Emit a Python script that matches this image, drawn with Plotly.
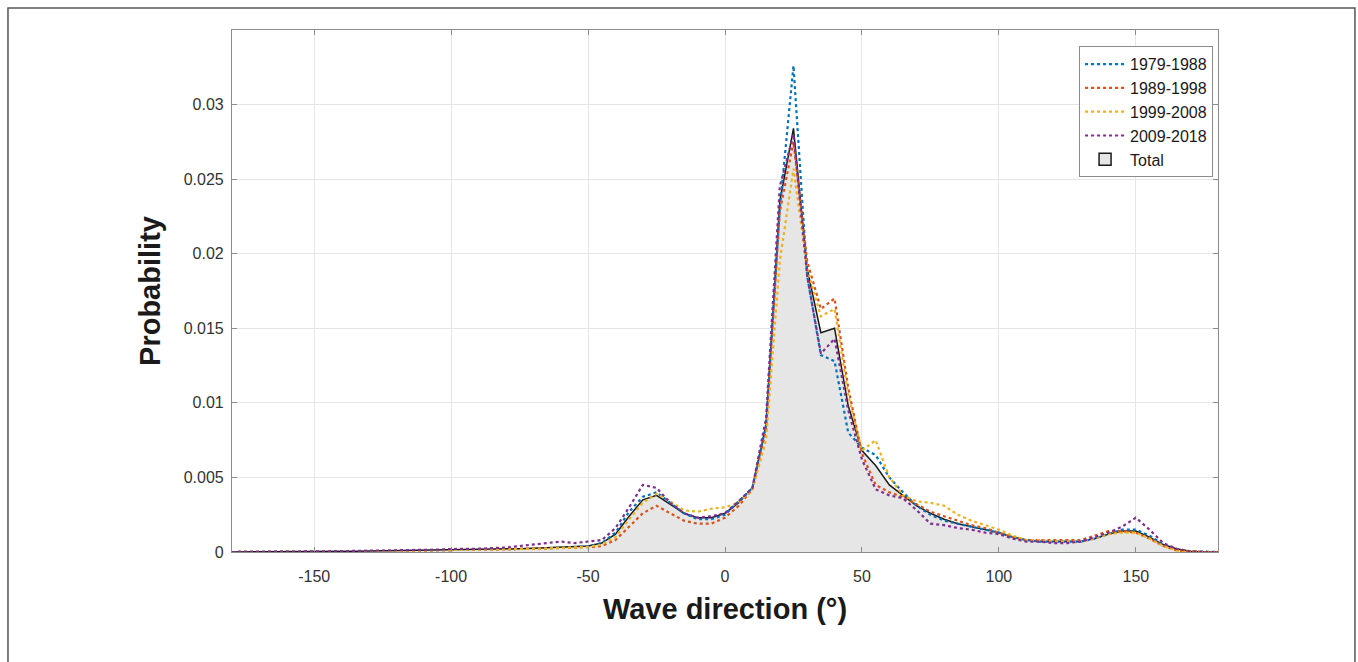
import plotly.graph_objects as go

directions = list(range(-180, 181, 5))

total = [0, 0, 0.00002, 0.00002, 0.00003, 0.00003, 0.00003, 0.00004, 0.00004, 0.00005,
         0.00006, 0.00007, 0.00008, 0.00009, 0.0001, 0.00012, 0.00013, 0.00014, 0.00016, 0.00018,
         0.0002, 0.00022, 0.00025, 0.00028, 0.00032, 0.00036, 0.0004, 0.0006, 0.0012, 0.0024,
         0.0035, 0.0038, 0.0032, 0.0026, 0.0023, 0.0023, 0.0026, 0.0033, 0.0043, 0.0085,
         0.0235, 0.0284, 0.0190, 0.0147, 0.0150, 0.0098, 0.0068, 0.0058, 0.0045, 0.0038,
         0.0031, 0.0026, 0.0022, 0.0019, 0.0017, 0.0015, 0.0013, 0.0010, 0.0008, 0.0007,
         0.0007, 0.0007, 0.0007, 0.0009, 0.0012, 0.0014, 0.0014, 0.0010, 0.0005, 0.0002,
         0.00005, 0, 0]

p1979 = [0, 0, 0.00001, 0.00002, 0.00002, 0.00003, 0.00003, 0.00003, 0.00004, 0.00004,
         0.00005, 0.00006, 0.00007, 0.00008, 0.00009, 0.0001, 0.00011, 0.00012, 0.00014, 0.00016,
         0.00018, 0.0002, 0.00022, 0.00025, 0.00028, 0.00032, 0.00036, 0.0006, 0.0013, 0.0027,
         0.0037, 0.0040, 0.0033, 0.0026, 0.0022, 0.0022, 0.0025, 0.0034, 0.0043, 0.0085,
         0.0230, 0.0326, 0.0185, 0.0132, 0.0128, 0.0080, 0.0070, 0.0065, 0.0050, 0.0040,
         0.0031, 0.0025, 0.0021, 0.0019, 0.0017, 0.0015, 0.0013, 0.0010, 0.0008, 0.0007,
         0.0007, 0.0007, 0.0007, 0.0009, 0.0012, 0.0015, 0.0015, 0.0011, 0.0005, 0.0002,
         0.00005, 0, 0]

p1989 = [0, 0, 0.00001, 0.00002, 0.00002, 0.00003, 0.00003, 0.00003, 0.00004, 0.00004,
         0.00005, 0.00006, 0.00007, 0.00008, 0.00009, 0.0001, 0.00011, 0.00012, 0.00014, 0.00016,
         0.00018, 0.0002, 0.00022, 0.00024, 0.00026, 0.0003, 0.00033, 0.0004, 0.0008, 0.0017,
         0.0026, 0.0031, 0.0026, 0.0021, 0.0019, 0.0019, 0.0023, 0.0031, 0.0042, 0.0082,
         0.0228, 0.0275, 0.0195, 0.0163, 0.0170, 0.0110, 0.0066, 0.0045, 0.0040, 0.0037,
         0.0032, 0.0027, 0.0024, 0.0021, 0.0018, 0.0016, 0.0013, 0.0010, 0.0008, 0.0008,
         0.0008, 0.0008, 0.0008, 0.0011, 0.0014, 0.0014, 0.0013, 0.0009, 0.0004, 0.0001,
         0.00003, 0, 0]

p1999 = [0, 0, 0.00001, 0.00002, 0.00002, 0.00003, 0.00003, 0.00003, 0.00004, 0.00004,
         0.00005, 0.00006, 0.00007, 0.00008, 0.00009, 0.0001, 0.00011, 0.00012, 0.00014, 0.00016,
         0.00018, 0.0002, 0.00022, 0.00024, 0.00027, 0.0003, 0.00034, 0.0005, 0.0010, 0.0022,
         0.0033, 0.0039, 0.0034, 0.0028, 0.0027, 0.0029, 0.0030, 0.0033, 0.0042, 0.0075,
         0.0195, 0.0257, 0.0190, 0.0158, 0.0163, 0.0105, 0.0068, 0.0075, 0.0050, 0.0038,
         0.0034, 0.0033, 0.0031, 0.0025, 0.0021, 0.0018, 0.0015, 0.0011, 0.0008, 0.0008,
         0.0007, 0.0007, 0.0007, 0.0009, 0.0012, 0.0013, 0.0013, 0.0009, 0.0004, 0.0001,
         0.00003, 0, 0]

p2009 = [0, 0, 0.00002, 0.00003, 0.00003, 0.00004, 0.00004, 0.00005, 0.00006, 0.00007,
         0.00008, 0.0001, 0.00011, 0.00012, 0.00014, 0.00016, 0.0002, 0.0002, 0.00022, 0.00026,
         0.0003, 0.0004, 0.0005, 0.0006, 0.0007, 0.0006, 0.0007, 0.0008, 0.0016, 0.0030,
         0.0045, 0.0043, 0.0033, 0.0026, 0.0023, 0.0024, 0.0026, 0.0034, 0.0043, 0.0090,
         0.0245, 0.0280, 0.0185, 0.0133, 0.0143, 0.0095, 0.0062, 0.0042, 0.0038, 0.0036,
         0.0028, 0.0019, 0.0018, 0.0016, 0.0015, 0.0013, 0.0012, 0.0009, 0.0007, 0.0007,
         0.0006, 0.0006, 0.0007, 0.0010, 0.0013, 0.0017, 0.0023, 0.0015, 0.0006, 0.0002,
         0.00005, 0, 0]

series_names = ["1979-1988", "1989-1998", "1999-2008", "2009-2018"]
series_values = [p1979, p1989, p1999, p2009]
series_colors = ["#0072BD", "#D95319", "#EDB120", "#7E2F8E"]

x_ticks = [-150, -100, -50, 0, 50, 100, 150]
x_tick_labels = ["-150", "-100", "-50", "0", "50", "100", "150"]
y_ticks = [0, 0.005, 0.01, 0.015, 0.02, 0.025, 0.03]
y_tick_labels = ["0", "0.005", "0.01", "0.015", "0.02", "0.025", "0.03"]

FONT = "Arial, Liberation Sans, sans-serif"

fig = go.Figure()

# Total: filled area (legend entry drawn as a box via a dummy bar trace)
fig.add_trace(go.Scatter(
    x=directions, y=total, name="Total", mode="lines",
    fill="tozeroy", fillcolor="#e6e6e6",
    line=dict(color="#1a1a1a", width=1.5),
    showlegend=False,
))

for i, (name, vals, col) in enumerate(zip(series_names, series_values, series_colors)):
    fig.add_trace(go.Scatter(
        x=directions, y=vals, name=name, mode="lines",
        line=dict(color=col, width=2.2, dash="dot"),
        legendrank=1 + i,
    ))

fig.add_trace(go.Bar(
    x=[None], y=[None], name="Total",
    marker=dict(color="#e6e6e6", line=dict(color="#1a1a1a", width=1.5)),
    legendrank=5, showlegend=True,
))

axis_common = dict(
    showgrid=True, gridcolor="#e6e6e6", gridwidth=1,
    zeroline=False, showline=True, linecolor="#8c8c8c", linewidth=1.2,
    mirror="ticks", ticks="inside", ticklen=5, tickcolor="#8c8c8c",
    tickfont=dict(family=FONT, size=16, color="#333333"),
)

fig.update_xaxes(
    range=[-180, 180], tickvals=x_ticks, ticktext=x_tick_labels,
    ticklabelstandoff=10,
    title=dict(text="<b>Wave direction (°)</b>", standoff=14,
               font=dict(family=FONT, size=29, color="#1a1a1a")),
    **axis_common,
)
fig.update_yaxes(
    range=[0, 0.035], tickvals=y_ticks, ticktext=y_tick_labels,
    ticklabelstandoff=4,
    title=dict(text="<b>Probability</b>", standoff=14,
               font=dict(family=FONT, size=29, color="#1a1a1a")),
    **axis_common,
)

fig.update_layout(
    width=1358, height=662,
    margin=dict(l=232, r=140, t=30, b=110),
    paper_bgcolor="white", plot_bgcolor="white",
    showlegend=True,
    legend=dict(
        x=0.995, y=0.969, xanchor="right", yanchor="top",
        bgcolor="white", bordercolor="#8c8c8c", borderwidth=1,
        font=dict(family=FONT, size=16, color="#1a1a1a"),
        tracegroupgap=0, itemwidth=40,
    ),
    shapes=[dict(
        type="rect", xref="paper", yref="paper",
        x0=-0.2272, x1=1.1389, y0=-0.3, y1=1.0421,
        line=dict(color="#555555", width=1.5), fillcolor="rgba(0,0,0,0)", layer="below",
    )],
)

fig.write_html("out.html")
